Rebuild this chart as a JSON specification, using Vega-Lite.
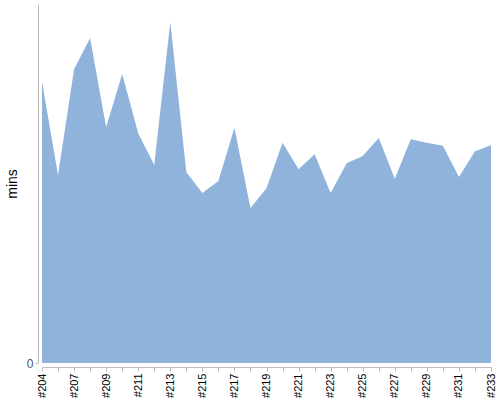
{
  "$schema": "https://vega.github.io/schema/vega-lite/v6.json",
  "width": 449,
  "height": 359,
  "padding": {"left": 5, "top": 4, "right": 8, "bottom": 0},
  "data": {
    "values": [
      {"episode": "#204", "mins": 47.0},
      {"episode": "#205", "mins": 31.4},
      {"episode": "#207", "mins": 49.1},
      {"episode": "#208", "mins": 54.3},
      {"episode": "#209", "mins": 39.4},
      {"episode": "#210", "mins": 48.3},
      {"episode": "#211", "mins": 38.4},
      {"episode": "#212", "mins": 33.1},
      {"episode": "#213", "mins": 57.0},
      {"episode": "#214", "mins": 31.9},
      {"episode": "#215", "mins": 28.4},
      {"episode": "#216", "mins": 30.4},
      {"episode": "#217", "mins": 39.3},
      {"episode": "#218", "mins": 25.9},
      {"episode": "#219", "mins": 29.2},
      {"episode": "#220", "mins": 36.8},
      {"episode": "#221", "mins": 32.4},
      {"episode": "#222", "mins": 34.9},
      {"episode": "#223", "mins": 28.4},
      {"episode": "#224", "mins": 33.4},
      {"episode": "#225", "mins": 34.6},
      {"episode": "#226", "mins": 37.6},
      {"episode": "#227", "mins": 30.8},
      {"episode": "#228", "mins": 37.4},
      {"episode": "#229", "mins": 36.8},
      {"episode": "#230", "mins": 36.3},
      {"episode": "#231", "mins": 31.1},
      {"episode": "#232", "mins": 35.4},
      {"episode": "#233", "mins": 36.4}
    ]
  },
  "mark": {"type": "area", "color": "#8fb3db", "opacity": 1},
  "encoding": {
    "x": {
      "field": "episode",
      "type": "ordinal",
      "sort": null,
      "scale": {"type": "point", "padding": 0},
      "axis": {
        "title": null,
        "labelAngle": -90,
        "labelOverlap": false,
        "labelExpr": "indexof(['#204','#207','#209','#211','#213','#215','#217','#219','#221','#223','#225','#227','#229','#231','#233'], datum.value) >= 0 ? datum.value : ''",
        "offset": 4,
        "tickSize": 4
      }
    },
    "y": {
      "field": "mins",
      "type": "quantitative",
      "scale": {"domain": [0, 60]},
      "axis": {
        "values": [0],
        "title": "mins",
        "grid": false,
        "offset": 4,
        "tickSize": 3,
        "labelFontSize": 12,
        "labelColor": "#555555",
        "titlePadding": 7,
        "titleFontSize": 14,
        "titleFontWeight": "normal"
      }
    }
  },
  "config": {
    "view": {"stroke": null},
    "font": "Liberation Sans",
    "axis": {
      "domainColor": "#bbbbbb",
      "tickColor": "#bbbbbb",
      "labelColor": "#000000",
      "titleColor": "#000000",
      "labelFontSize": 11,
      "labelFont": "Liberation Sans",
      "titleFont": "Liberation Sans"
    }
  }
}
